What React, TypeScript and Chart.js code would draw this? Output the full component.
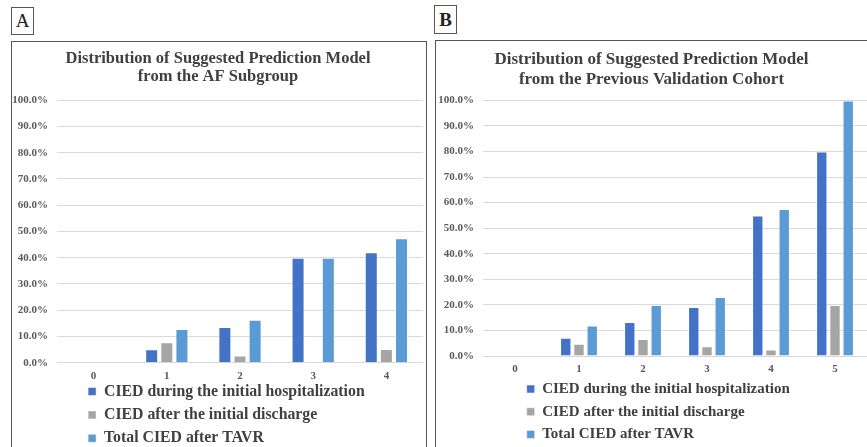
import React, { useEffect, useRef } from "react";
import { Chart, registerables } from "chart.js";

Chart.register(...registerables);

const seriesNames = [
  "CIED during the initial hospitalization",
  "CIED after the initial discharge",
  "Total CIED after TAVR",
];
const seriesColors = ["#4472C4", "#A5A5A5", "#5B9BD5"];

const categoriesA = ["0", "1", "2", "3", "4"];
const duringA = [0, 5.1, 13.6, 40.0, 42.1];
const afterA = [0, 7.8, 2.7, 0, 5.2];
const totalA = [0, 12.8, 16.4, 40.0, 47.4];
const titleA = ["Distribution of Suggested Prediction Model", "from the AF Subgroup"];

const categoriesB = ["0", "1", "2", "3", "4", "5"];
const duringB = [0, 7.1, 13.3, 19.2, 55.0, 80.0];
const afterB = [0, 4.8, 6.7, 3.8, 2.5, 20.0];
const totalB = [0, 11.9, 20.0, 23.1, 57.5, 100.0];
const titleB = ["Distribution of Suggested Prediction Model", "from the Previous Validation Cohort"];

const yTickValues = [0, 10, 20, 30, 40, 50, 60, 70, 80, 90, 100];

const FONT = "'Liberation Serif', 'Times New Roman', serif";

interface Cfg {
  categories: string[];
  series: number[][];
  title: string[];
  titleSize: number;
  titleLH: number;
  titlePad: { top: number; bottom: number };
  yAxisWidth: number;
  padBottom: number;
  padRight: number;
  legendSize: number;
  legendPad: number;
  legendLeft: number;
  legendTop: number;
  width: number;
  height: number;
}

function BarPanel({ cfg }: { cfg: Cfg }) {
  const ref = useRef<HTMLCanvasElement>(null);
  useEffect(() => {
    if (!ref.current) return;
    const legendPlace = {
      id: "legendPlace",
      afterLayout(chart: any) {
        const lg = chart.legend;
        if (lg) {
          lg.left = cfg.legendLeft;
          lg.right = cfg.legendLeft + 380;
          lg.top = cfg.legendTop;
          lg.bottom = cfg.legendTop + 200;
          lg.width = 380;
          lg.height = 200;
        }
      },
    };
    const chart = new Chart(ref.current, {
      type: "bar",
      data: {
        labels: cfg.categories,
        datasets: cfg.series.map((d, i) => ({
          label: seriesNames[i],
          data: d,
          backgroundColor: seriesColors[i],
          borderColor: "rgba(255,255,255,0.5)",
          borderWidth: 1,
          categoryPercentage: 0.62,
          barPercentage: 0.86,
        })),
      },
      options: {
        responsive: false,
        animation: false,
        layout: { padding: { left: 0, top: 0, right: cfg.padRight, bottom: cfg.padBottom } },
        plugins: {
          title: {
            display: true,
            text: cfg.title,
            color: "#404040",
            font: { family: FONT, size: cfg.titleSize, weight: "bold", lineHeight: cfg.titleLH },
            padding: cfg.titlePad,
          },
          legend: {
            display: true,
            position: "chartArea",
            align: "start",
            labels: {
              color: "#404040",
              font: { family: FONT, size: cfg.legendSize, weight: "bold" },
              boxWidth: 8,
              boxHeight: 8,
              padding: cfg.legendPad,
            },
          },
          tooltip: { enabled: false },
        },
        scales: {
          x: {
            grid: { display: false, drawTicks: false },
            border: { display: false },
            ticks: {
              color: "#595959",
              font: { family: FONT, size: 11, weight: "bold", lineHeight: 1.2 },
              padding: 7,
            },
            afterFit(axis: any) {
              axis.height = 22;
            },
          },
          y: {
            min: 0,
            max: 100,
            afterBuildTicks(axis: any) {
              axis.ticks = yTickValues.map((v) => ({ value: v }));
            },
            grid: { color: "#d9d9d9", lineWidth: 1, drawTicks: false },
            border: { display: false },
            ticks: {
              color: "#595959",
              font: { family: FONT, size: 11, weight: "bold" },
              padding: 9,
              callback: (v: any) => Number(v).toFixed(1) + "%",
            },
            afterFit(axis: any) {
              axis.width = cfg.yAxisWidth;
            },
          },
        },
      },
      plugins: [legendPlace],
    });
    return () => chart.destroy();
  }, [cfg]);
  return <canvas ref={ref} width={cfg.width} height={cfg.height} style={{ display: "block" }} />;
}

// Panel A canvas: page left 13, top 43. Zero line at page y 362.7, 100% at 100.3.
const cfgA: Cfg = {
  categories: categoriesA,
  series: [duringA, afterA, totalA],
  title: titleA,
  titleSize: 16.5,
  titleLH: 1.09,
  titlePad: { top: 7, bottom: 14.3 },
  yAxisWidth: 44,
  padBottom: 412 - (362.7 - 43) - 22,
  padRight: 2,
  legendSize: 15.8,
  legendPad: 7.6,
  legendLeft: 67.5,
  legendTop: 391.5 - 43 - 7.6 - 7.9,
  width: 412,
  height: 412,
};

// Panel B canvas: page left 436, top 41. Zero line at page y 356.
const cfgB: Cfg = {
  categories: categoriesB,
  series: [duringB, afterB, totalB],
  title: titleB,
  titleSize: 17,
  titleLH: 1.18,
  titlePad: { top: 8.3, bottom: 11 },
  yAxisWidth: 47,
  padBottom: 410 - (356 - 41) - 22,
  padRight: 0,
  legendSize: 15,
  legendPad: 7.7,
  legendLeft: 83,
  legendTop: 389 - 41 - 7.7 - 7.5,
  width: 431,
  height: 410,
};

export default function App() {
  return (
    <div
      style={{
        position: "fixed",
        left: 0,
        top: 0,
        width: 867,
        height: 447,
        overflow: "hidden",
        background: "#fff",
        fontFamily: FONT,
      }}
    >
      <div
        style={{
          position: "absolute", left: 11, top: 7, width: 21, height: 26,
          border: "1px solid #555", fontSize: 19, lineHeight: "26px", textAlign: "center", color: "#222",
        }}
      >
        A
      </div>
      <div
        style={{
          position: "absolute", left: 11, top: 41, width: 414, height: 420,
          border: "1px solid #555",
        }}
      />
      <div
        style={{
          position: "absolute", left: 434, top: 5, width: 21, height: 27,
          border: "1px solid #555", fontSize: 19, fontWeight: "bold", lineHeight: "27px", textAlign: "center", color: "#222",
        }}
      >
        B
      </div>
      <div
        style={{
          position: "absolute", left: 435, top: 40, width: 440, height: 420,
          border: "1px solid #555",
        }}
      />
      <div style={{ position: "absolute", left: 13, top: 43 }}>
        <BarPanel cfg={cfgA} />
      </div>
      <div style={{ position: "absolute", left: 436, top: 41 }}>
        <BarPanel cfg={cfgB} />
      </div>
    </div>
  );
}
